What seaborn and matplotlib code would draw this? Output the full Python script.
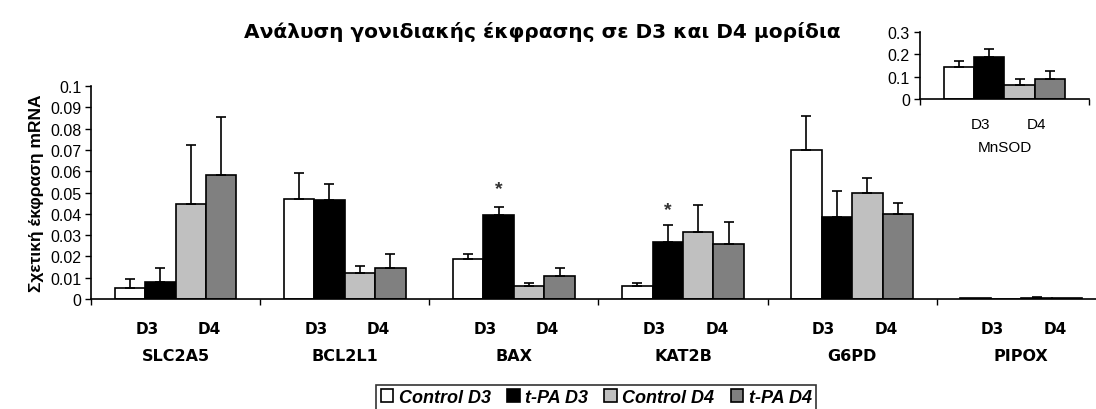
import numpy as np
import pandas as pd
import seaborn as sns
import matplotlib.pyplot as plt

# Δεδομένα
genes = ['SLC2A5', 'BCL2L1', 'BAX', 'KAT2B', 'G6PD', 'PIPOX']
groups = ['Control D3', 't-PA D3', 'Control D4', 't-PA D4']
control_d3 = [0.0053, 0.0470, 0.0188, 0.0060, 0.0700, 0.0005]
tpa_d3 = [0.0078, 0.0463, 0.0394, 0.0268, 0.0385, 0.0002]
control_d4 = [0.0446, 0.0124, 0.0060, 0.0313, 0.0496, 0.0005]
tpa_d4 = [0.0580, 0.0147, 0.0108, 0.0258, 0.0400, 0.0004]
err_control_d3 = [0.0041, 0.0120, 0.0022, 0.0017, 0.0158, 0.0]
err_tpa_d3 = [0.0068, 0.0078, 0.0038, 0.0078, 0.0123, 0.0]
err_control_d4 = [0.0277, 0.0031, 0.0017, 0.0128, 0.0071, 0.0003]
err_tpa_d4 = [0.0276, 0.0064, 0.0039, 0.0102, 0.0049, 0.0]
star_genes = ['BAX', 'KAT2B']
star_values = [0.052, 0.042]

mnsod_values = [0.1425, 0.19, 0.0645, 0.09]
mnsod_err = [0.030, 0.035, 0.0255, 0.0375]

colors = ['white', 'black', '#c0c0c0', '#808080']

plt.rcParams['font.family'] = ['Liberation Sans', 'DejaVu Sans']

values = [control_d3, tpa_d3, control_d4, tpa_d4]
errors = [err_control_d3, err_tpa_d3, err_control_d4, err_tpa_d4]
df = pd.DataFrame({
    'gene': np.tile(genes, 4),
    'group': np.repeat(groups, len(genes)),
    'value': np.concatenate(values),
})

fig = plt.figure(figsize=(10.96, 4.10), dpi=100)
ax = fig.add_axes([0.083, 0.268, 0.926, 0.52])

sns.barplot(data=df, x='gene', y='value', hue='group', order=genes, hue_order=groups,
            palette=colors, edgecolor='black', linewidth=1.2, width=0.72, gap=0,
            errorbar=None, ax=ax, legend=True)

# barras de erro (apenas para cima)
for cont, err in zip(ax.containers, errors):
    for bar, e in zip(cont, err):
        if e <= 0:
            continue
        xc = bar.get_x() + bar.get_width() / 2
        ax.errorbar(xc, bar.get_height(), yerr=[[0], [e]], fmt='none', ecolor='black',
                    elinewidth=1.2, capsize=3.5, capthick=1.2)

# asteriscos
for g, v in zip(star_genes, star_values):
    bar = ax.containers[1][genes.index(g)]
    ax.text(bar.get_x() + bar.get_width() / 2, v, '*', ha='center', va='center',
            fontsize=14, fontweight='bold', color='#333333')

ax.set_ylim(0, 0.1)
ax.set_xlim(-0.5, len(genes) - 0.5)
ticks = np.arange(0, 0.1001, 0.01)
ax.set_yticks(ticks)
ax.set_yticklabels(['%g' % round(t, 2) for t in ticks], fontsize=11.5)
ax.set_xticks(np.arange(-0.5, len(genes), 1.0))
ax.set_xticklabels([])
ax.tick_params(axis='both', direction='out', length=4, width=1, color='black', pad=3)
for s in ['top', 'right']:
    ax.spines[s].set_visible(False)
for s in ['left', 'bottom']:
    ax.spines[s].set_linewidth(1.2)
ax.set_xlabel('')
ax.set_ylabel('Σχετική έκφραση mRNA', fontsize=12.5, fontweight='bold', labelpad=4)

for i, g in enumerate(genes):
    ax.text(i - 0.17, -0.014, 'D3', ha='center', va='center', fontsize=11,
            fontweight='bold', family='DejaVu Sans')
    ax.text(i + 0.2, -0.014, 'D4', ha='center', va='center', fontsize=11,
            fontweight='bold', family='DejaVu Sans')
    ax.text(i, -0.0265, g, ha='center', va='center', fontsize=11.5,
            fontweight='bold', family='DejaVu Sans')

fig.text(0.495, 0.922, 'Ανάλυση γονιδιακής έκφρασης σε D3 και D4 μορίδια',
         ha='center', va='center', fontsize=14.5, fontweight='bold', family='DejaVu Sans')

# legenda
handles, labels = ax.get_legend_handles_labels()
ax.legend_.remove()
leg = fig.legend(handles, labels, loc='center', bbox_to_anchor=(0.544, 0.028), ncol=4,
                 frameon=True, fancybox=False, edgecolor='black', handlelength=0.7,
                 handleheight=0.7, handletextpad=0.3, columnspacing=0.9, borderpad=0.25,
                 prop={'style': 'italic', 'weight': 'bold', 'size': 13})
leg.get_frame().set_linewidth(1.2)

# inserção MnSOD
ins = fig.add_axes([0.839, 0.756, 0.155, 0.163])
df_in = pd.DataFrame({'gene': ['MnSOD'] * 4, 'group': groups, 'value': mnsod_values})
sns.barplot(data=df_in, x='gene', y='value', hue='group', hue_order=groups,
            palette=colors, edgecolor='black', linewidth=1.2, width=0.71, gap=0,
            errorbar=None, ax=ins, legend=False)
for cont, e in zip(ins.containers, mnsod_err):
    bar = cont[0]
    xc = bar.get_x() + bar.get_width() / 2
    ins.errorbar(xc, bar.get_height(), yerr=[[0], [e]], fmt='none', ecolor='black',
                 elinewidth=1.2, capsize=3.5, capthick=1.2)
ins.set_ylim(0, 0.3)
ins.set_xlim(-0.5, 0.5)
ins.set_yticks([0, 0.1, 0.2, 0.3])
ins.set_yticklabels(['0', '0.1', '0.2', '0.3'], fontsize=11.5)
ins.set_xticks([-0.5, 0.5])
ins.set_xticklabels([])
ins.tick_params(axis='both', direction='out', length=4, width=1, color='black', pad=3)
for s in ['top', 'right']:
    ins.spines[s].set_visible(False)
for s in ['left', 'bottom']:
    ins.spines[s].set_linewidth(1.2)
ins.set_xlabel('')
ins.set_ylabel('')
ins.text(-0.14, -0.112, 'D3', ha='center', va='center', fontsize=11)
ins.text(0.19, -0.112, 'D4', ha='center', va='center', fontsize=11)
ins.text(0.0, -0.215, 'MnSOD', ha='center', va='center', fontsize=11)

fig.savefig('out.png', dpi=100)
